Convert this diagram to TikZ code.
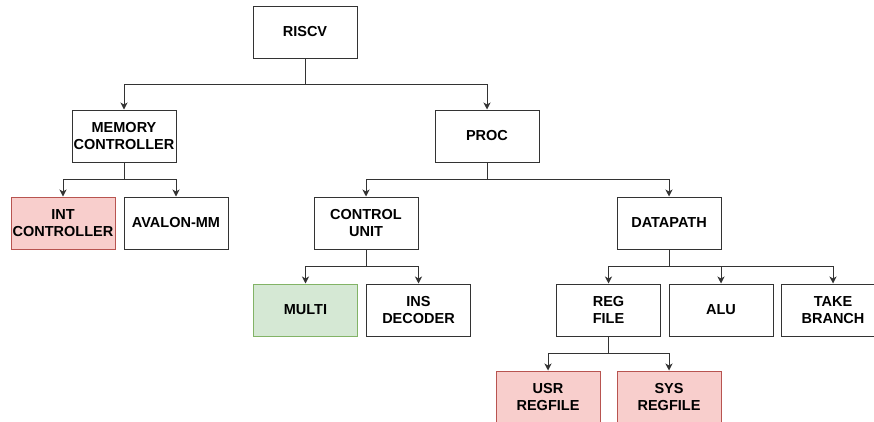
\documentclass[tikz,border=0pt]{standalone}
\usepackage{fontspec}
\setmainfont{Liberation Sans}
\usetikzlibrary{arrows.meta}
\definecolor{pinkfill}{HTML}{F8CECC}
\definecolor{pinkline}{HTML}{B85450}
\definecolor{greenfill}{HTML}{D5E8D4}
\definecolor{greenline}{HTML}{82B366}
\definecolor{edge}{HTML}{333333}
\begin{document}
\begin{tikzpicture}[x=1pt,y=-1pt,
  box/.style={draw=edge, line width=1pt, fill=white, minimum width=104pt,
    minimum height=52pt, inner sep=0pt, align=center,
    font=\fontsize{14.5}{17.5}\selectfont\bfseries},
  pinkbox/.style={box, draw=pinkline, fill=pinkfill},
  greenbox/.style={box, draw=greenline, fill=greenfill},
  wire/.style={draw=edge, line width=1pt},
  link/.style={wire, -{Stealth[length=7pt,width=7pt,inset=2pt]}}]
\clip (0,0) rectangle (874,421);
\fill[white] (0,0) rectangle (874,421);

% hierarchy blocks
\node[box] (riscv) at (305,32) {RISCV};
\node[box] (mem) at (124,136) {MEMORY\\CONTROLLER};
\node[box] (proc) at (487,136) {PROC};
\node[pinkbox] (int) at (63,223) {INT\\CONTROLLER};
\node[box] (avalon) at (176,223) {AVALON-MM};
\node[box] (ctrl) at (366,223) {CONTROL\\UNIT};
\node[box] (dp) at (669,223) {DATAPATH};
\node[greenbox] (multi) at (305.5,310) {MULTI};
\node[box] (insdec) at (418.5,310) {INS\\DECODER};
\node[box] (reg) at (608.5,310) {REG\\FILE};
\node[box] (alu) at (721,310) {ALU};
\node[box] (take) at (833,310) {TAKE\\BRANCH};
\node[pinkbox] (usr) at (548,397) {USR\\REGFILE};
\node[pinkbox] (sys) at (669,397) {SYS\\REGFILE};

% branch points of the tree
\coordinate (b1) at (305,84);
\coordinate (b2) at (124,179);
\coordinate (b3) at (487,179);
\coordinate (b4) at (366,266);
\coordinate (b5) at (669,266);
\coordinate (b6) at (608.5,353);

\draw[wire] (riscv.south) -- (b1);
\draw[link] (b1) -| (mem.north);
\draw[link] (b1) -| (proc.north);

\draw[wire] (mem.south) -- (b2);
\draw[link] (b2) -| (int.north);
\draw[link] (b2) -| (avalon.north);

\draw[wire] (proc.south) -- (b3);
\draw[link] (b3) -| (ctrl.north);
\draw[link] (b3) -| (dp.north);

\draw[wire] (ctrl.south) -- (b4);
\draw[link] (b4) -| (multi.north);
\draw[link] (b4) -| (insdec.north);

\draw[wire] (dp.south) -- (b5);
\draw[link] (b5) -| (reg.north);
\draw[link] (b5) -| (alu.north);
\draw[link] (b5) -| (take.north);

\draw[wire] (reg.south) -- (b6);
\draw[link] (b6) -| (usr.north);
\draw[link] (b6) -| (sys.north);
\end{tikzpicture}
\end{document}
